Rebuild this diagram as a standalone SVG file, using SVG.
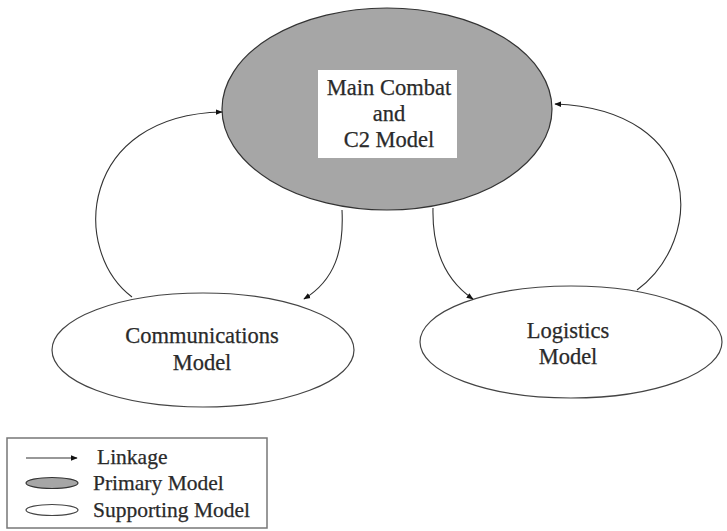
<svg xmlns="http://www.w3.org/2000/svg" width="727" height="531" viewBox="0 0 727 531">
<defs>
<marker id="ah" viewBox="0 0 10 10" refX="9" refY="5" markerWidth="7" markerHeight="7" markerUnits="userSpaceOnUse" orient="auto">
<path d="M0,1 L10,5 L0,9 z" fill="#111"/>
</marker>
<style>
text{font-family:"Liberation Serif","Times New Roman",serif;fill:#2a2a2a;stroke:#2a2a2a;stroke-width:0.25;}
.lbl{font-size:22.5px;text-anchor:middle;}
.leg{font-size:21.5px;}
.prim{fill:#a6a6a6;stroke:#333;stroke-width:1.2;}
.supp{fill:#fff;stroke:#444;stroke-width:1.2;}
.conn{fill:none;stroke:#333;stroke-width:1.1;marker-end:url(#ah);}
</style>
</defs>
<rect width="727" height="531" fill="#fff"/>
<g id="main">
<ellipse class="prim" cx="387" cy="109" rx="165" ry="101"/>
<rect x="318" y="70" width="139" height="88" fill="#fff"/>
<text class="lbl" x="389" y="95">Main Combat</text>
<text class="lbl" x="389" y="121">and</text>
<text class="lbl" x="389" y="147">C2 Model</text>
</g>
<g id="communications">
<ellipse class="supp" cx="203" cy="350" rx="151" ry="57"/>
<text class="lbl" x="202" y="343">Communications</text>
<text class="lbl" x="202" y="370">Model</text>
</g>
<g id="logistics">
<ellipse class="supp" cx="571" cy="342" rx="151" ry="56"/>
<text class="lbl" x="568" y="338">Logistics</text>
<text class="lbl" x="568" y="364">Model</text>
</g>
<g id="connectors">
<path class="conn" d="M132,297 C70,250 80,115 222,112"/>
<path class="conn" d="M342,210 C344,250 335,280 304,299"/>
<path class="conn" d="M433,208 C432,250 445,280 473,299"/>
<path class="conn" d="M637,290 C705,240 705,110 555,104"/>
</g>
<g id="legend">
<rect x="7" y="438" width="260" height="90" fill="#fff" stroke="#777" stroke-width="1.5"/>
<line x1="26" y1="458" x2="77" y2="458" stroke="#333" stroke-width="1.1" marker-end="url(#ah)"/>
<text class="leg" x="97" y="464">Linkage</text>
<ellipse class="prim" cx="52" cy="483" rx="26" ry="5.5"/>
<text class="leg" x="93" y="490">Primary Model</text>
<ellipse class="supp" cx="52" cy="510" rx="26" ry="5.5"/>
<text class="leg" x="93" y="517">Supporting Model</text>
</g>
</svg>
